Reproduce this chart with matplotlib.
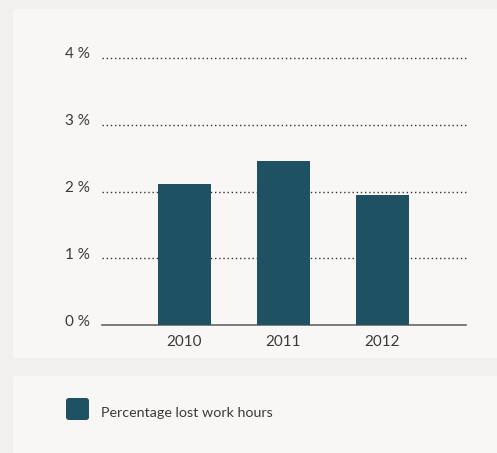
import matplotlib.pyplot as plt
import matplotlib.transforms as mtransforms
from matplotlib.patches import FancyBboxPatch

years = ["2010", "2011", "2012"]
lost_hours = [2.11, 2.46, 1.95]
y_ticks = [0, 1, 2, 3, 4]
y_labels = ["0 %", "1 %", "2 %", "3 %", "4 %"]
legend_label = "Percentage lost work hours"

W, H = 497, 453
bar_color = "#1e5162"
text_color = "#3a3a3a"

plt.rcParams['font.family'] = ['Lato', 'DejaVu Sans']

fig = plt.figure(figsize=(W / 100, H / 100), dpi=100)
fig.patch.set_facecolor("#f1f0ee")

def panel(x0, y0, x1, y1):
    # pixel coords from top-left
    p = FancyBboxPatch((x0 / W, 1 - y1 / H), (x1 - x0) / W, (y1 - y0) / H,
                       boxstyle="round,pad=0,rounding_size=0.006",
                       transform=fig.transFigure, facecolor="#f8f7f5",
                       edgecolor="none", zorder=-5)
    fig.patches.append(p)

panel(13, 9, 505, 358)
panel(13, 376, 505, 460)

# axes: x 102..466 px, y 58..325 px
ax = fig.add_axes([102 / W, 1 - 325 / H, (466 - 102) / W, (325 - 58) / H])
ax.set_zorder(2)
ax.set_facecolor("none")
x = range(len(years))
ax.bar(x, lost_hours, width=0.535, color=bar_color, zorder=3)
ax.set_xlim(-0.833, 2.843)
ax.set_ylim(0, 4)
ax.set_yticks(y_ticks)
ax.set_yticklabels(y_labels)
ax.set_xticks(list(x))
ax.set_xticklabels(years)
for y in y_ticks[1:]:
    ax.axhline(y, color="#333333", lw=1, ls=(0, (1, 2)), zorder=1, clip_on=False)
for s in ["top", "right", "left"]:
    ax.spines[s].set_visible(False)
ax.spines["bottom"].set_color("#666666")
ax.spines["bottom"].set_linewidth(1.2)
ax.tick_params(axis="both", length=0, labelsize=11, colors=text_color)
ax.tick_params(axis="y", pad=9)
ax.tick_params(axis="x", pad=7)

# y labels sit a little above their gridline
up = mtransforms.ScaledTranslation(0, 5 / 100, fig.dpi_scale_trans)
for lab in ax.get_yticklabels():
    lab.set_transform(lab.get_transform() + up)

# legend
lx, ly = 66, 398
fig.patches.append(FancyBboxPatch((lx / W, 1 - (ly + 22) / H), 23 / W, 22 / H,
                                  boxstyle="round,pad=0,rounding_size=0.006",
                                  transform=fig.transFigure, facecolor=bar_color,
                                  edgecolor="none", zorder=2))
fig.text(101 / W, 1 - 413 / H, legend_label, fontsize=10.3, color=text_color,
         va="center", ha="left")

fig.savefig("out.png", dpi=100, facecolor=fig.get_facecolor())
